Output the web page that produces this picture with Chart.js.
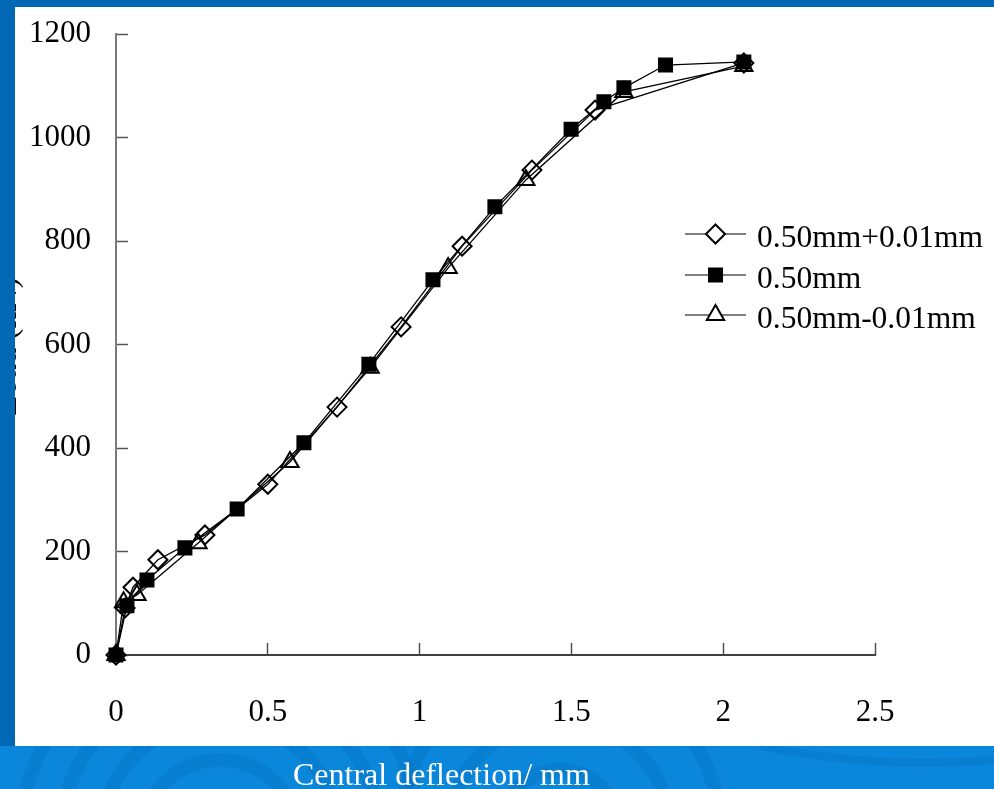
<!DOCTYPE html>
<html>
<head>
<meta charset="utf-8">
<script src="https://cdn.jsdelivr.net/npm/chart.js@4.4.1/dist/chart.umd.min.js"></script>
<style>
  html, body { margin: 0; padding: 0; background: #0068b4; }
  #chart { display: block; }
</style>
</head>
<body>
<canvas id="chart" width="994" height="789"></canvas>
<script>
// load vs central deflection, three plate thicknesses
var seriesNames = ['0.50mm+0.01mm', '0.50mm', '0.50mm-0.01mm'];

var plusX = [0, 0.03, 0.056, 0.138, 0.293, 0.50, 0.728, 0.939, 1.14, 1.37, 1.578, 2.068];
var plusY = [0, 91, 131, 184, 232, 330, 479, 634, 790, 937, 1053, 1144];

var nomX = [0, 0.036, 0.102, 0.227, 0.399, 0.619, 0.833, 1.044, 1.248, 1.499, 1.607, 1.673, 1.81, 2.068];
var nomY = [0, 95, 145, 207, 282, 410, 562, 725, 866, 1016, 1069, 1096, 1140, 1146];

var minusX = [0, 0.025, 0.069, 0.27, 0.573, 0.837, 1.094, 1.35, 1.673, 2.068];
var minusY = [0, 102, 116, 216, 373, 555, 748, 918, 1088, 1138];

var xTicks = [0, 0.5, 1, 1.5, 2, 2.5];
var yTicks = [0, 200, 400, 600, 800, 1000, 1200];

var xTitle = 'Central deflection/ mm';
var yTitle = 'Load (kN)';

var SERIF = "'Liberation Serif', 'Times New Roman', serif";

function toPoints(xs, ys) {
  return xs.map(function (x, i) { return { x: x, y: ys[i] }; });
}

var markers = [
  { pointStyle: 'rectRot', radius: 9.5, fill: 'rgba(0,0,0,0)', legendFill: '#ffffff' },
  { pointStyle: 'rect', radius: 9.2, fill: '#000000', legendFill: '#000000' },
  { pointStyle: 'triangle', radius: 10, fill: 'rgba(0,0,0,0)', legendFill: '#ffffff' }
];

var datasets = [toPoints(plusX, plusY), toPoints(nomX, nomY), toPoints(minusX, minusY)].map(function (pts, i) {
  return {
    label: seriesNames[i],
    data: pts,
    borderColor: '#000000',
    borderWidth: 1.3,
    pointStyle: markers[i].pointStyle,
    pointRadius: markers[i].radius,
    pointBackgroundColor: markers[i].fill,
    pointBorderColor: '#000000',
    pointBorderWidth: 2,
    tension: 0,
    clip: false
  };
});

// slide background: white panel on blue, swirls in the bottom band
var slideBackground = {
  id: 'slideBackground',
  beforeDraw: function (chart) {
    var ctx = chart.ctx;
    ctx.save();
    ctx.fillStyle = '#0a86da';
    ctx.fillRect(0, 740, 994, 49);
    ctx.beginPath();
    ctx.rect(0, 746, 994, 43);
    ctx.clip();
    ctx.strokeStyle = 'rgba(0, 60, 140, 0.10)';
    ctx.lineWidth = 14;
    [40, 80, 120, 160, 200].forEach(function (r) {
      ctx.beginPath();
      ctx.arc(220, 840, r, 0, Math.PI * 2);
      ctx.stroke();
    });
    [60, 110, 160].forEach(function (r) {
      ctx.beginPath();
      ctx.arc(560, 830, r, 0, Math.PI * 2);
      ctx.stroke();
    });
    ctx.lineWidth = 8;
    ctx.beginPath();
    ctx.moveTo(760, 746); ctx.quadraticCurveTo(880, 770, 994, 760);
    ctx.stroke();
    ctx.restore();
    ctx.save();
    ctx.fillStyle = '#ffffff';
    ctx.fillRect(15, 7, 979, 739);
    ctx.restore();
  },
  afterDraw: function (chart) {
    var ctx = chart.ctx;
    var ca = chart.chartArea;
    ctx.save();
    // y title, mostly hidden under the slide edge
    ctx.translate(7, (ca.top + ca.bottom) / 2 + 2);
    ctx.rotate(-Math.PI / 2);
    ctx.font = '33px ' + SERIF;
    ctx.fillStyle = '#000000';
    ctx.textAlign = 'center';
    ctx.textBaseline = 'middle';
    ctx.fillText(yTitle, 0, 0);
    ctx.restore();

    ctx.save();
    ctx.fillStyle = '#0068b4';
    ctx.fillRect(0, 0, 994, 7);
    ctx.fillRect(0, 0, 15, 746);
    ctx.font = '32px ' + SERIF;
    ctx.fillStyle = '#ffffff';
    ctx.textAlign = 'left';
    ctx.textBaseline = 'alphabetic';
    ctx.fillText(xTitle, 293, 785);
    ctx.restore();
  }
};

// legend box at the right of the plot
var sideLegend = {
  id: 'sideLegend',
  afterDraw: function (chart) {
    var ctx = chart.ctx;
    var rows = [234, 275, 315];
    ctx.save();
    chart.data.datasets.forEach(function (ds, i) {
      var y = rows[i];
      ctx.strokeStyle = '#000000';
      ctx.lineWidth = 1.2;
      ctx.beginPath();
      ctx.moveTo(685, y);
      ctx.lineTo(746, y);
      ctx.stroke();
      ctx.fillStyle = markers[i].legendFill;
      ctx.lineWidth = 2;
      Chart.helpers.drawPoint(ctx, {
        pointStyle: markers[i].pointStyle,
        radius: markers[i].radius,
        borderWidth: 2,
        rotation: 0
      }, 715.5, y);
      ctx.fillStyle = '#000000';
      ctx.font = '31.5px ' + SERIF;
      ctx.textAlign = 'left';
      ctx.textBaseline = 'alphabetic';
      ctx.fillText(ds.label, 757, y + 13);
    });
    ctx.restore();
  }
};

var config = {
  type: 'line',
  data: { datasets: datasets },
  options: {
    responsive: false,
    animation: false,
    devicePixelRatio: 1,
    layout: { padding: { left: 0, top: 34, right: 119, bottom: 0 } },
    plugins: {
      legend: { display: false },
      tooltip: { enabled: false }
    },
    scales: {
      x: {
        type: 'linear',
        min: 0,
        max: 2.5,
        afterBuildTicks: function (scale) {
          scale.ticks = xTicks.map(function (v) { return { value: v }; });
        },
        afterFit: function (scale) {
          scale.height = 134;
          scale.paddingLeft = 0;
          scale.paddingRight = 0;
        },
        border: { display: true, color: '#404040', width: 2 },
        grid: { drawOnChartArea: false, drawTicks: true, tickLength: -12, tickColor: '#505050', tickWidth: 1.5 },
        ticks: {
          padding: 51,
          color: '#000000',
          font: { family: SERIF, size: 31 },
          callback: function (v) { return String(v); }
        }
      },
      y: {
        type: 'linear',
        min: 0,
        max: 1200,
        afterBuildTicks: function (scale) {
          scale.ticks = yTicks.map(function (v) { return { value: v }; });
        },
        afterFit: function (scale) {
          scale.width = 116;
          scale.paddingTop = 0;
          scale.paddingBottom = 0;
        },
        border: { display: true, color: '#7a7a7a', width: 2 },
        grid: { drawOnChartArea: false, drawTicks: true, tickLength: -12, tickColor: '#555555', tickWidth: 1.5 },
        ticks: {
          padding: 37,
          color: '#000000',
          font: { family: SERIF, size: 31 },
          callback: function (v) { return String(v); }
        }
      }
    }
  },
  plugins: [slideBackground, sideLegend]
};

window.onload = function () {
  var ctx = document.getElementById('chart').getContext('2d');
  window.deflectionChart = new Chart(ctx, config);
};
</script>
</body>
</html>
